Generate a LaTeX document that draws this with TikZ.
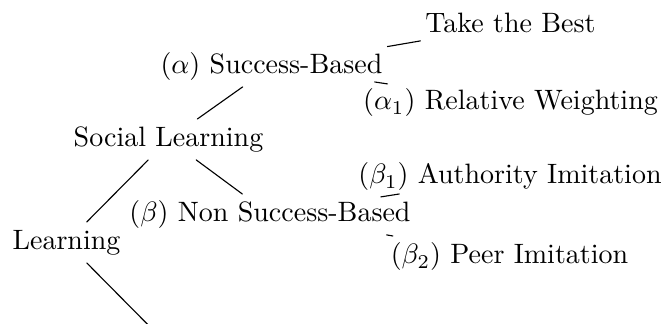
\documentclass[tikz,border=0pt]{standalone}
\tikzset{lbl/.style={anchor=base,inner xsep=1.6pt,inner ysep=3.33pt,text height=1.5ex,text depth=.25ex}}

\begin{document}
\begin{tikzpicture}[line cap=round,line join=round,x=0.357pt,y=-0.357pt]
        \useasboundingbox (0,0) rectangle (665,324);
        \clip (0,0) rectangle (665,324);
        \node[lbl] (learn) at (66.5,250) {Learning};
        \node[lbl] (social) at (168.5,147) {Social Learning};
        \node[lbl] (succ) at (271.5,74) {$(\alpha)$ Success-Based};
        \node[lbl] (nonsucc) at (270,222) {$(\beta)$ Non Success-Based};
        \node[lbl] (best) at (510.5,33) {Take the Best};
        \node[lbl] (relw) at (510.5,110) {$(\alpha_1)$ Relative Weighting};
        \node[lbl] (auth) at (510,184) {$(\beta_1)$ Authority Imitation};
        \node[lbl] (peer) at (509.5,264) {$(\beta_2)$ Peer Imitation};
        \coordinate (other) at (168.5,345.5);
        \draw (learn) -- (social);
        \draw (learn) -- (other);
        \draw (social) -- (succ);
        \draw (social) -- (nonsucc);
        \draw (succ) -- (best);
        \draw (succ) -- (relw);
        \draw (nonsucc) -- (auth);
        \draw (nonsucc) -- (peer);
    \end{tikzpicture}
\end{document}
